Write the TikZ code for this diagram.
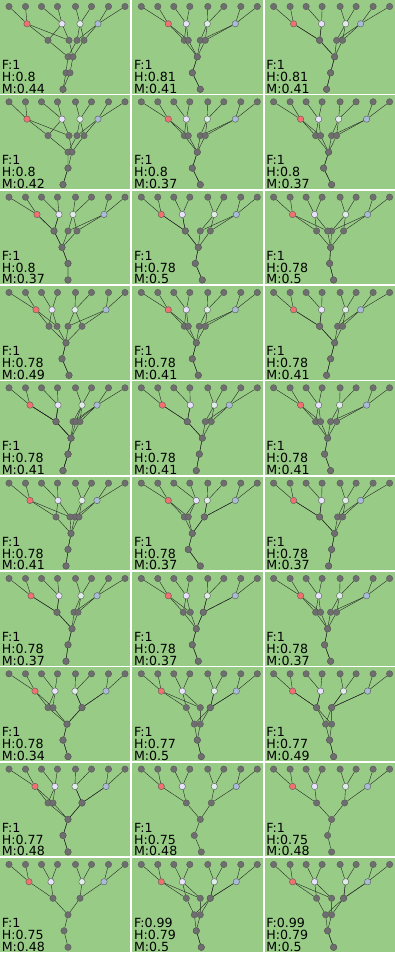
\documentclass[tikz,border=0pt]{standalone}
\usepackage{fontspec}
\setsansfont{DejaVu Sans}
\usepackage{tikz}

\pgfdeclarelayer{panels}
\pgfdeclarelayer{edges}
\pgfsetlayers{panels,edges,main}

\definecolor{panelgreen}{RGB}{152,204,134}
\definecolor{nodegray}{RGB}{110,110,110}
\definecolor{nodered}{RGB}{242,112,112}
\definecolor{nodelav}{RGB}{232,226,252}
\definecolor{nodemint}{RGB}{222,238,230}
\definecolor{nodeblue}{RGB}{168,188,216}

\tikzset{
    dot/.style={circle, draw=black!65, line width=0.4pt, fill=nodegray, minimum size=6.4pt, inner sep=0pt},
    edge/.style={black!85, line width=0.4pt},
    score/.style={anchor=base west, inner sep=0pt, font=\sffamily\fontsize{12.6}{12.6}\selectfont},
}

% \treepanel{col}{row}{F}{H}{M}{red/lavender/mint/blue}{left/right/mid/low/root,...}
\newcommand{\treepanel}[7]{%
    \begin{scope}[shift={(#1*132.3,#2*95.33)}]
        \begin{pgfonlayer}{panels}
            \fill[panelgreen] (0,0) rectangle (130.4,93.6);
        \end{pgfonlayer}
        \foreach \xr/\xv/\xw/\xb in {#6} {
            % leaves and coloured parents
            \foreach \lx [count=\i] in {9,25.5,41.5,57.5,75.5,91.5,108.5,125}
                \node[dot] (l\i) at (\lx,6.5) {};
            \node[dot, fill=nodered] (cR) at (\xr,23.8) {};
            \node[dot, fill=nodelav] (cV) at (\xv,23.8) {};
            \node[dot, fill=nodemint] (cW) at (\xw,23.8) {};
            \node[dot, fill=nodeblue] (cB) at (\xb,23.8) {};
            \begin{pgfonlayer}{edges}
                \draw[edge] (l1) -- (cR) (l2) -- (cR) (l3) -- (cV) (l4) -- (cV)
                    (l5) -- (cW) (l6) -- (cW) (l7) -- (cB) (l8) -- (cB);
            \end{pgfonlayer}
            % overlaid lower trees
            \foreach \pa/\pb/\pc/\pd/\pe [count=\k] in {#7} {
                \node[dot] (a\k) at (\pa,40.3) {};
                \node[dot] (b\k) at (\pb,40.3) {};
                \node[dot] (m\k) at (\pc,56.8) {};
                \node[dot] (n\k) at (\pd,72.8) {};
                \node[dot] (t\k) at (\pe,89.3) {};
                \begin{pgfonlayer}{edges}
                    \draw[edge] (cR) -- (a\k) (cV) -- (a\k) (cW) -- (b\k) (cB) -- (b\k)
                        (a\k) -- (m\k) (b\k) -- (m\k) (m\k) -- (n\k) -- (t\k);
                \end{pgfonlayer}
            }
        }
        \node[score] (sF) at (1.6,69.5) {F:#3};
        \node[score] (sH) at (1.6,81.5) {H:#4};
        \node[score] (sM) at (1.6,93.3) {M:#5};
    \end{scope}%
}

\begin{document}
\begin{tikzpicture}[x=1pt, y=-1pt]
    \useasboundingbox (0,0) rectangle (395,953);
    \begin{pgfonlayer}{panels}
        \fill[white] (0,0) rectangle (395,953);
    \end{pgfonlayer}

    % row 1
    \treepanel{0}{0}{1}{0.8}{0.44}{27/62/80/98}{48/77/68/66/63,69/84/73/70/63}
    \treepanel{1}{0}{1}{0.81}{0.41}{36/54/75/103}{52/68/65/60/68,56/73/65/60/68}
    \treepanel{2}{0}{1}{0.81}{0.41}{29/57/81/96}{55/72/70/66/62,55/78/70/66/62}
    % row 2
    \treepanel{0}{1}{1}{0.8}{0.42}{27/62/80/98}{48/77/68/68/63,69/84/72/68/63}
    \treepanel{1}{1}{1}{0.8}{0.37}{36/54/75/103}{52/68/65/60/68,56/73/65/60/68}
    \treepanel{2}{1}{1}{0.8}{0.37}{36/54/74/102}{51/67/64/59/67,56/72/64/59/67}
    % row 3
    \treepanel{0}{2}{1}{0.8}{0.37}{37/59/73/104}{54/68/62/68/68,54/77/62/68/68}
    \treepanel{1}{2}{1}{0.78}{0.5}{29/50/82/104}{53/68/66/63/70,53/78/66/63/70}
    \treepanel{2}{2}{1}{0.78}{0.5}{28/50/81/103}{52/67/66/65/69,63/79/66/65/69}
    % row 4
    \treepanel{0}{3}{1}{0.78}{0.49}{36/52/75/106}{49/68/66/62/69,57/82/66/62/69}
    \treepanel{1}{3}{1}{0.78}{0.41}{36/54/75/103}{52/67/64/60/66,56/73/64/60/66}
    \treepanel{2}{3}{1}{0.78}{0.41}{29/57/81/96}{55/73/70/66/62,55/78/70/66/62}
    % row 5
    \treepanel{0}{4}{1}{0.78}{0.41}{30/58/82/97}{56/73/71/68/63,56/76/71/68/63,56/80/71/68/63}
    \treepanel{1}{4}{1}{0.78}{0.41}{30/58/82/97}{55/73/70/67/64,55/79/70/67/64}
    \treepanel{2}{4}{1}{0.78}{0.41}{36/54/75/102}{51/66/63/60/66,56/72/63/60/66}
    % row 6
    \treepanel{0}{5}{1}{0.78}{0.41}{30/58/82/97}{56/75/71/68/66,70/79/71/68/66}
    \treepanel{1}{5}{1}{0.78}{0.37}{36/64/75/103}{52/72/60/56/68,56/72/60/56/68}
    \treepanel{2}{5}{1}{0.78}{0.37}{29/57/81/96}{55/73/70/67/64,55/78/70/67/64}
    % row 7
    \treepanel{0}{6}{1}{0.78}{0.37}{31/59/81/97}{57/74/72/68/66,57/78/72/68/66}
    \treepanel{1}{6}{1}{0.78}{0.37}{36/54/75/103}{51/71/64/60/66,58/71/64/60/66}
    \treepanel{2}{6}{1}{0.78}{0.37}{36/54/75/102}{51/66/63/60/66,56/72/63/60/66}
    % row 8
    \treepanel{0}{7}{1}{0.78}{0.34}{35/55/75/106}{48/82/67/63/68,53/82/67/63/68}
    \treepanel{1}{7}{1}{0.77}{0.5}{29/50/82/104}{54/78/62/65/69,68/78/68/65/69}
    \treepanel{2}{7}{1}{0.77}{0.49}{28/56/79/103}{52/67/61/65/69,52/67/67/65/69}
    % row 9
    \treepanel{0}{8}{1}{0.77}{0.48}{35/55/75/106}{48/82/68/63/68,53/82/68/63/68}
    \treepanel{1}{8}{1}{0.75}{0.48}{29/50/82/104}{54/79/68/62/69}
    \treepanel{2}{8}{1}{0.75}{0.48}{28/50/81/103}{52/80/67/63/67}
    % row 10
    \treepanel{0}{9}{1}{0.75}{0.48}{29/51/82/104}{53/80/68/64/68}
    \treepanel{1}{9}{0.99}{0.79}{0.5}{29/50/82/104}{54/78/62/64/69,68/78/68/64/69}
    \treepanel{2}{9}{0.99}{0.79}{0.5}{28/50/81/103}{52/79/61/63/69,67/79/67/63/69}
\end{tikzpicture}
\end{document}
